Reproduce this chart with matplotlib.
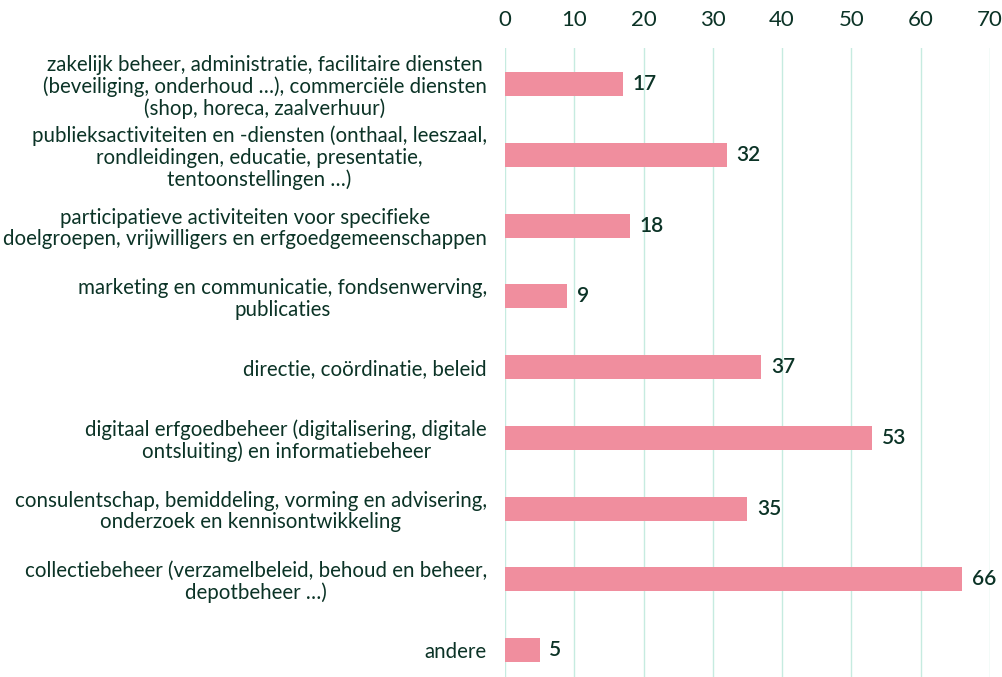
import matplotlib.pyplot as plt

categories = [
    'zakelijk beheer, administratie, facilitaire diensten\n(beveiliging, onderhoud …), commerciële diensten\n(shop, horeca, zaalverhuur)',
    'publieksactiviteiten en -diensten (onthaal, leeszaal,\nrondleidingen, educatie, presentatie,\ntentoonstellingen …)',
    'participatieve activiteiten voor specifieke\ndoelgroepen, vrijwilligers en erfgoedgemeenschappen',
    'marketing en communicatie, fondsenwerving,\npublicaties',
    'directie, coördinatie, beleid',
    'digitaal erfgoedbeheer (digitalisering, digitale\nontsluiting) en informatiebeheer',
    'consulentschap, bemiddeling, vorming en advisering,\nonderzoek en kennisontwikkeling',
    'collectiebeheer (verzamelbeleid, behoud en beheer,\ndepotbeheer …)',
    'andere',
]
values = [17, 32, 18, 9, 37, 53, 35, 66, 5]
ticks = [0, 10, 20, 30, 40, 50, 60, 70]

text_color = '#0b3326'
bar_color = '#f08e9e'
grid_color = '#c6ebe0'

plt.rcParams['font.family'] = ['Lato', 'DejaVu Sans']

fig = plt.figure(figsize=(10.02, 6.77), dpi=100)
ax = fig.add_axes([0.504, 0.0, 0.484, 0.929])

y = list(range(len(values)))
bars = ax.barh(y, values, height=0.34, color=bar_color, zorder=3)

for b, v in zip(bars, values):
    ax.text(b.get_width() + 1.4, b.get_y() + b.get_height() / 2, str(v),
            va='center', ha='left', fontsize=15, fontweight='semibold', color=text_color)

ax.set_xlim(0, 70)
ax.set_ylim(8.38, -0.51)
ax.set_xticks(ticks)
ax.set_yticks(y)
ax.set_yticklabels(categories, multialignment='center', fontsize=14.8, color=text_color, linespacing=1.1)
ax.xaxis.tick_top()
ax.tick_params(axis='x', length=0, pad=13, labelsize=16, labelcolor=text_color)
ax.tick_params(axis='y', length=0, pad=13)
ax.grid(axis='x', color=grid_color, linewidth=1, zorder=0)
for s in ax.spines.values():
    s.set_visible(False)

fig.savefig('out.png', dpi=100)
